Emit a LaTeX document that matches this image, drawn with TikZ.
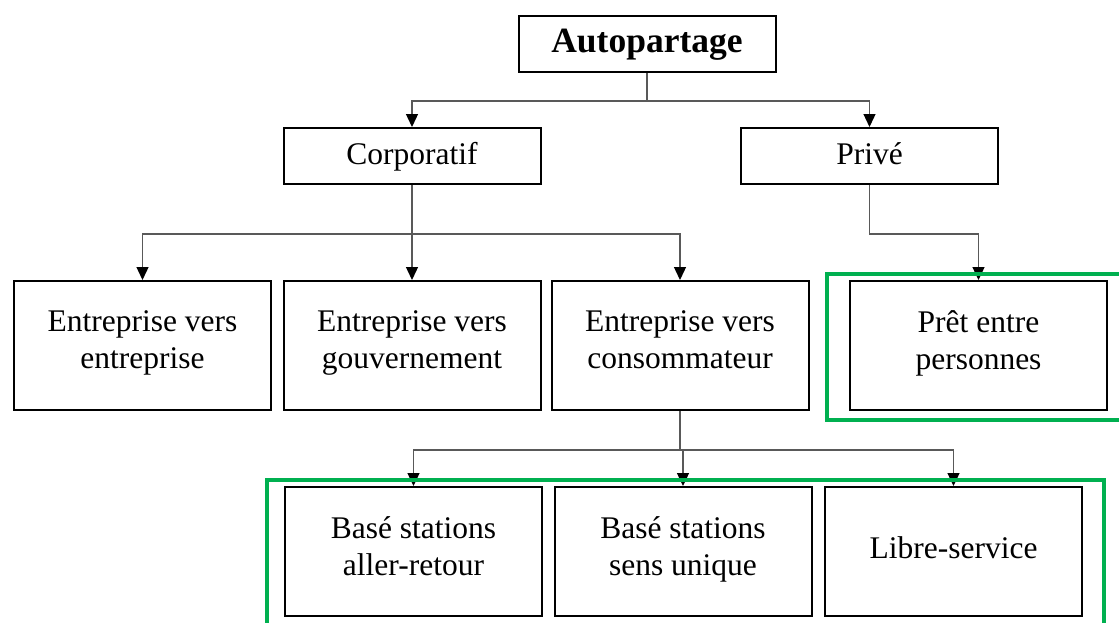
\documentclass[tikz,border=0pt]{standalone}
\usepackage{fontspec}
\setmainfont{Liberation Serif}
\usetikzlibrary{arrows.meta}
\definecolor{vert}{RGB}{0,176,80}
\tikzset{
  cadre/.style={draw,line width=2pt,minimum width=257pt,inner sep=0pt,
    align=center,font=\fontsize{31.5}{37}\selectfont,
    execute at begin node=\strut,execute at end node=\strut},
  haut/.style={cadre,minimum height=56pt},
  bas/.style={cadre,minimum height=129pt},
  lien/.style={->,draw=black!65,line width=1.3pt},
  groupe/.style={draw=vert,line width=3.4pt}
}
\begin{document}
\begin{tikzpicture}[x=1pt,y=-1pt,>={Triangle[length=13pt,width=12pt,black]}]
			\useasboundingbox (0,0) rectangle (1119,622);
			\clip (0,0) rectangle (1119,622);
			% niveau 1
			\node[haut,font=\fontsize{35.5}{40}\selectfont\bfseries] (auto)
			at (647,44) {Autopartage};
			% niveau 2
			\node[haut] (corp) at (412,156) {\raisebox{-1.5pt}{Corporatif}};
			\node[haut] (prive) at (869.5,156) {\raisebox{-1.5pt}{Privé}};
			% niveau 3
			\node[bas] (ee) at (142.5,345.5) {Entreprise vers\\entreprise};
			\node[bas] (eg) at (412,345.5) {Entreprise vers\\gouvernement};
			\node[bas] (ec) at (680,345.5) {Entreprise vers\\consommateur};
			\node[bas] (pp) at (978.5,345.5) {Prêt entre\\personnes};
			% niveau 4
			\node[bas] (bar) at (413.5,551.5) {Basé stations\\aller-retour};
			\node[bas] (bsu) at (683,551.5) {Basé stations\\sens unique};
			\node[bas] (ls) at (953.5,551.5) {Libre-service};
			% liens
			\draw[lien] (auto.south) -- ++(0,28) -| (corp.north);
			\draw[lien] (auto.south) -- ++(0,28) -| (prive.north);
			\draw[lien] (corp.south) -- (eg.north);
			\draw[lien] (corp.south) -- ++(0,49) -| (ee.north);
			\draw[lien] (corp.south) -- ++(0,49) -| (ec.north);
			\draw[lien] (prive.south) -- ++(0,49) -| (pp.north);
			\draw[lien] (ec.south) -- ++(0,39) -| (bar.north);
			\draw[lien] (ec.south) -- ++(0,39) -| (bsu.north);
			\draw[lien] (ec.south) -- ++(0,39) -| (ls.north);
			% groupes
			\draw[groupe] (827,274) rectangle (1130,420);
			\draw[groupe] (267,480) rectangle (1104,640);
		\end{tikzpicture}
\end{document}
